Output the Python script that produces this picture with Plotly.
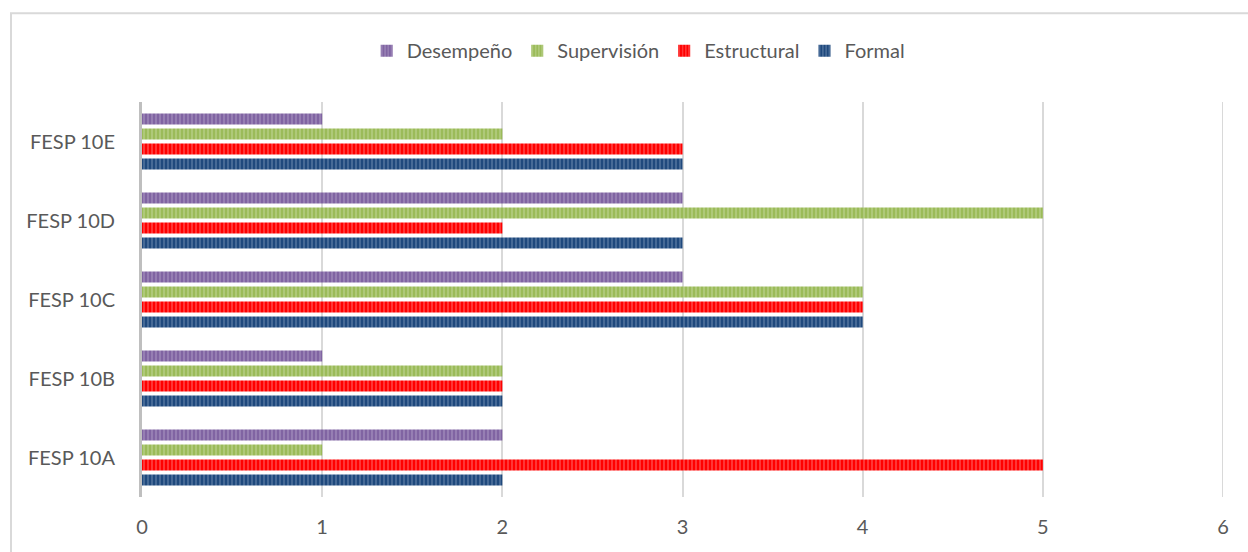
import plotly.graph_objects as go

categories = ["FESP 10A", "FESP 10B", "FESP 10C", "FESP 10D", "FESP 10E"]
formal = [2, 2, 4, 3, 3]
estructural = [5, 2, 4, 2, 3]
supervision = [1, 2, 4, 5, 2]
desempeno = [2, 1, 3, 3, 1]
x_ticks = [0, 1, 2, 3, 4, 5, 6]

series = [
    ("Formal", formal, "#1F497D", "#8EA6C6"),
    ("Estructural", estructural, "#FF0000", "#FF9A9A"),
    ("Supervisión", supervision, "#9BBB59", "#D2E2B4"),
    ("Desempeño", desempeno, "#8064A2", "#BEAFD2"),
]

fig = go.Figure()
for name, vals, bg, fg in series:
    fig.add_trace(go.Bar(
        y=categories, x=vals, name=name, orientation="h",
        marker=dict(color=bg, line=dict(width=0),
                    pattern=dict(shape="|", bgcolor=bg, fgcolor=fg,
                                 size=4, solidity=0.35, fillmode="overlay")),
    ))

font = dict(family="Lato, Open Sans, Liberation Sans, sans-serif", size=20, color="#595959")

fig.update_layout(
    width=1248, height=552,
    margin=dict(l=142, r=25, t=102, b=55),
    paper_bgcolor="white", plot_bgcolor="white",
    barmode="group", bargap=0.24, bargroupgap=0.27,
    font=font,
    showlegend=True,
    legend=dict(orientation="h", traceorder="reversed", x=0.459, xanchor="center",
                y=1.13, yanchor="middle", font=font, itemwidth=30,
                bgcolor="rgba(0,0,0,0)"),
    xaxis=dict(range=[0, 6], tickvals=x_ticks, showgrid=True, gridcolor="#D9D9D9",
               gridwidth=2, zeroline=False, showline=False, ticks="",
               ticklabelstandoff=16, tickfont=font),
    yaxis=dict(range=[-0.5, 4.5], showgrid=False, zeroline=False, showline=True,
               linecolor="#BFBFBF", linewidth=3, ticks="", ticklabelstandoff=20,
               tickfont=font),
    shapes=[dict(type="rect", xref="paper", yref="paper",
                 x0=-0.1212, x1=1.03, y0=-0.3, y1=1.225,
                 line=dict(color="#D9D9D9", width=2), layer="below"),
            dict(type="line", xref="x", yref="paper", x0=x_ticks[-1], x1=x_ticks[-1],
                 y0=0, y1=1, line=dict(color="#D9D9D9", width=2), layer="below")],
)

fig.write_html("out.html")
